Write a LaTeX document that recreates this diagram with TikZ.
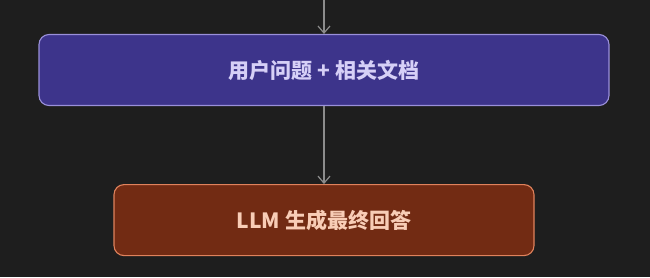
\documentclass[tikz,border=0pt]{standalone}
\usepackage{fontspec}
\newfontfamily\cjk{Noto Sans CJK SC}
\usetikzlibrary{arrows.meta, positioning}
\definecolor{cBack}{HTML}{1E1E1E}
\definecolor{cPurple}{HTML}{3D348B}
\definecolor{cPurpleLine}{HTML}{9A90DA}
\definecolor{cPurpleText}{HTML}{D6D0F7}
\definecolor{cBrown}{HTML}{722B13}
\definecolor{cBrownLine}{HTML}{E0825C}
\definecolor{cBrownText}{HTML}{F8CDB6}
\definecolor{cArrow}{HTML}{8C8C8C}
\tikzset{
  box/.style={
    rectangle, rounded corners=10pt, line width=1.1pt,
    minimum height=71pt, inner sep=0pt,
    font=\cjk\bfseries\fontsize{21}{25}\selectfont
  },
  qbox/.style={box, draw=cPurpleLine, fill=cPurple, text=cPurpleText,
    minimum width=570pt},
  abox/.style={box, draw=cBrownLine, fill=cBrown, text=cBrownText,
    minimum width=420pt},
  arrow/.style={-{Straight Barb[length=7pt, width=12pt]}, line width=1.2pt, cArrow},
}

\begin{document}
\begin{tikzpicture}[x=1pt, y=1pt]

  % Background
  \fill[cBack] (0,0) rectangle (650,277);
  \useasboundingbox (0,0) rectangle (650,277);

  \coordinate (entry) at (324,277);

  \node[qbox] (query) at (324,207) {用户问题 + 相关文档};
  \node[abox, below=78pt of query] (answer) {LLM 生成最终回答};

  % Arrows
  \draw[arrow] (entry) -- (query.north);
  \draw[arrow] (query.south) -- (answer.north);

\end{tikzpicture}
\end{document}
